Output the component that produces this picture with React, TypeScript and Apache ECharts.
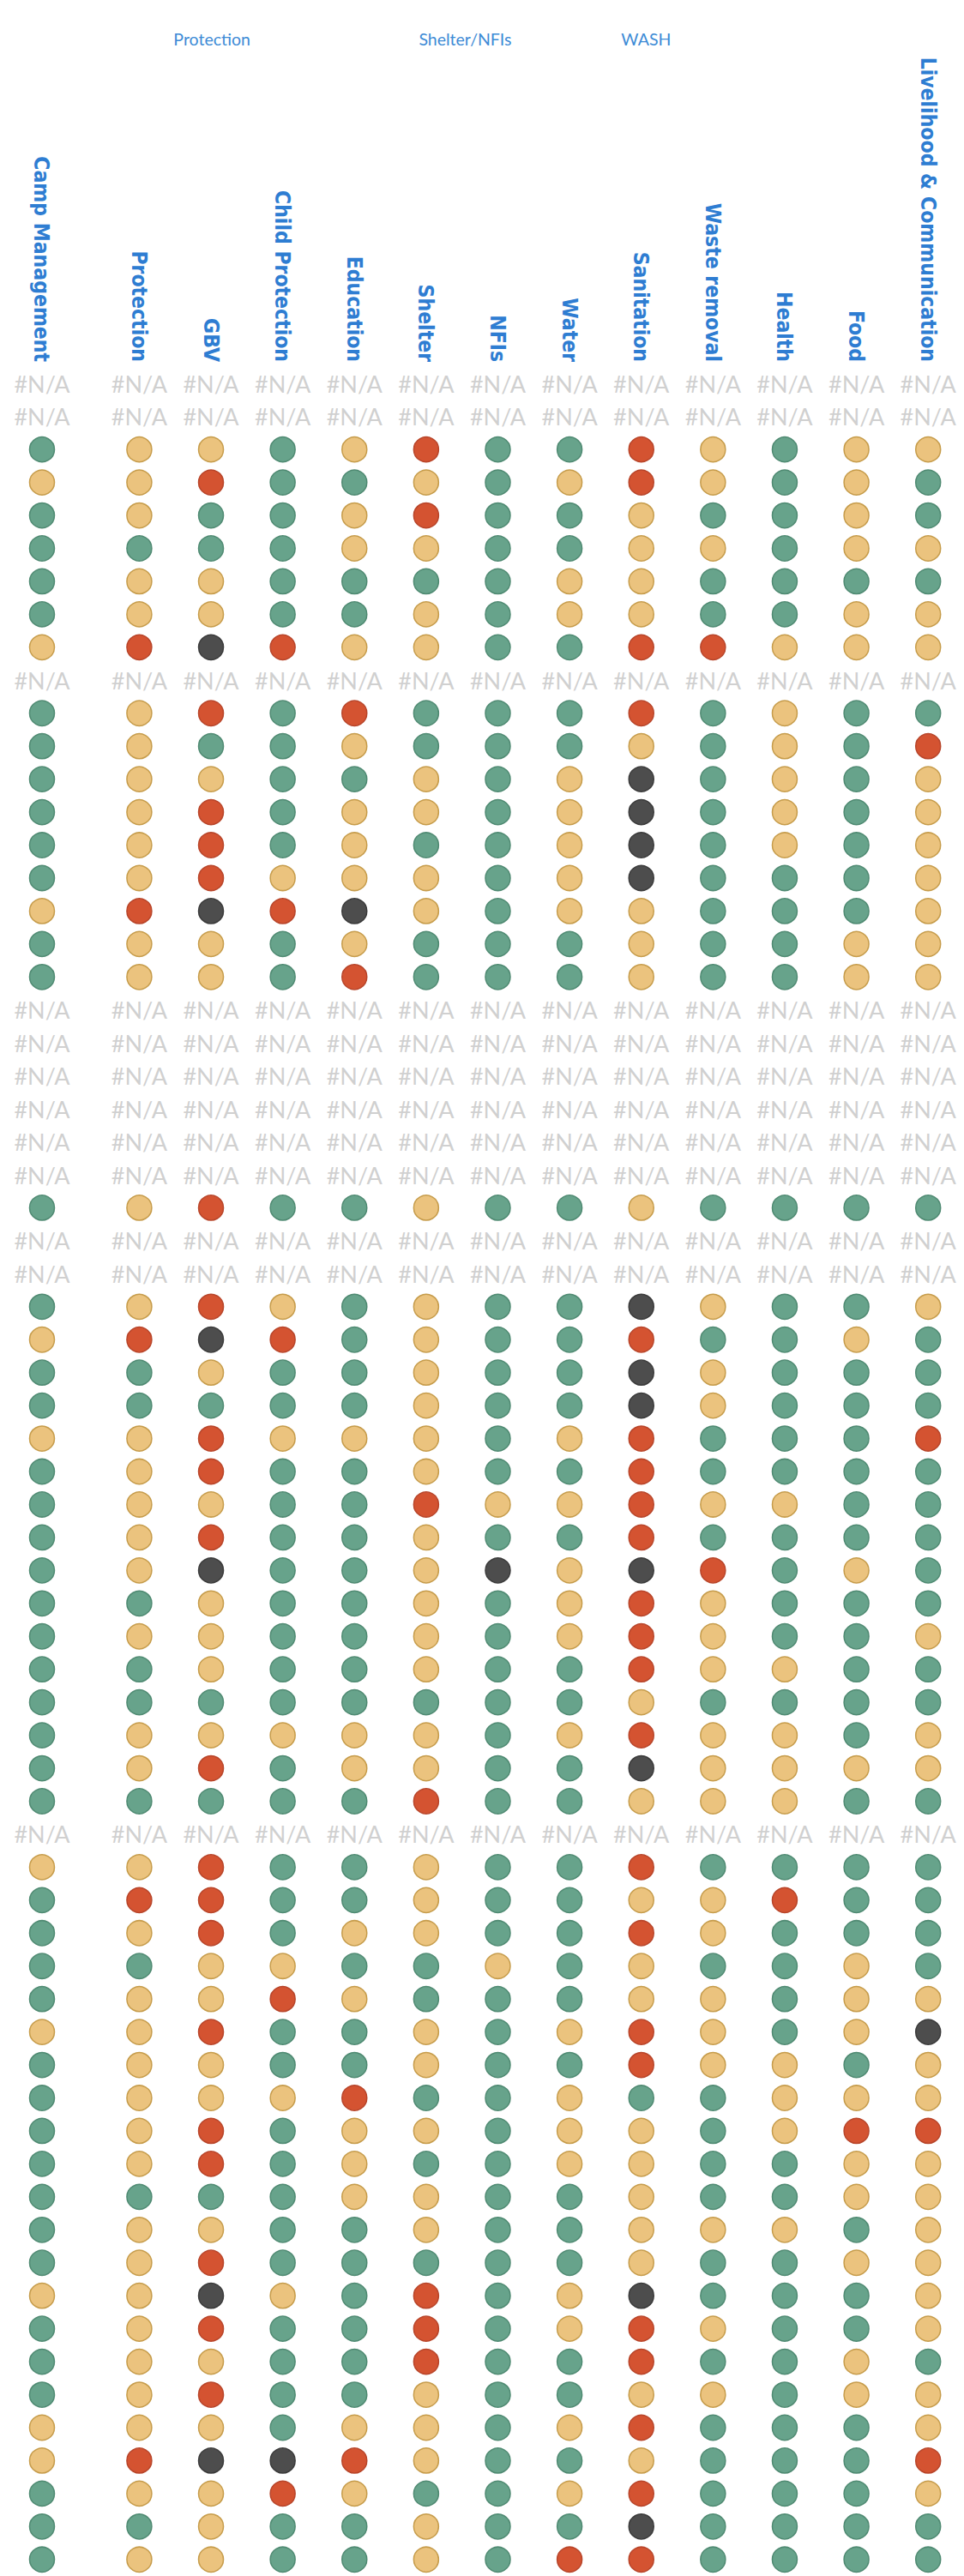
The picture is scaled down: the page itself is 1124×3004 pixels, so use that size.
import React, { useEffect, useRef } from "react";
import * as echarts from "echarts";

// Column headers (sectors)
const columns = [
  "Camp Management",
  "Protection",
  "GBV",
  "Child Protection",
  "Education",
  "Shelter",
  "NFIs",
  "Water",
  "Sanitation",
  "Waste removal",
  "Health",
  "Food",
  "Livelihood & Communication",
];

// Sector groups shown above the headers: label, first column, last column
const groupLabels = ["Protection", "Shelter/NFIs", "WASH"];
const groupFirstCol = [2, 5, 8];
const groupLastCol = [2, 6, 8];

// Status per row (one char per column): G=green, Y=yellow, R=red, D=dark, N=#N/A
const statusRows = [
  "NNNNNNNNNNNNN",
  "NNNNNNNNNNNNN",
  "GYYGYRGGRYGYY",
  "YYRGGYGYRYGYG",
  "GYGGYRGGYGGYG",
  "GGGGYYGGYYGYY",
  "GYYGGGGYYGGGG",
  "GYYGGYGYYGGYY",
  "YRDRYYGGRRYYY",
  "NNNNNNNNNNNNN",
  "GYRGRGGGRGYGG",
  "GYGGYGGGYGYGR",
  "GYYGGYGYDGYGY",
  "GYRGYYGYDGYGY",
  "GYRGYGGYDGYGY",
  "GYRYYYGYDGGGY",
  "YRDRDYGYYGGGY",
  "GYYGYGGGYGGYY",
  "GYYGRGGGYGGYY",
  "NNNNNNNNNNNNN",
  "NNNNNNNNNNNNN",
  "NNNNNNNNNNNNN",
  "NNNNNNNNNNNNN",
  "NNNNNNNNNNNNN",
  "NNNNNNNNNNNNN",
  "GYRGGYGGYGGGG",
  "NNNNNNNNNNNNN",
  "NNNNNNNNNNNNN",
  "GYRYGYGGDYGGY",
  "YRDRGYGGRGGYG",
  "GGYGGYGGDYGGG",
  "GGGGGYGGDYGGG",
  "YYRYYYGYRGGGR",
  "GYRGGYGGRGGGG",
  "GYYGGRYYRYYGG",
  "GYRGGYGGRGGGG",
  "GYDGGYDYDRGYG",
  "GGYGGYGYRYGGG",
  "GYYGGYGYRYGGY",
  "GGYGGYGGRYYGG",
  "GGGGGGGGYGGGG",
  "GYYYYYGYRYYGY",
  "GYRGYYGGDYYYY",
  "GGGGGRGGYYYGG",
  "NNNNNNNNNNNNN",
  "YYRGGYGGRGGGG",
  "GRRGGYGGYYRGG",
  "GYRGYYGGRYGGG",
  "GGYYGGYGYGGYG",
  "GYYRYGGGYYGYY",
  "YYRGGYGYRYGYD",
  "GYYGGYGGRYYGY",
  "GYYYRGGYGGYYY",
  "GYRGYYGYYGYRR",
  "GYRGYGGYYGGYY",
  "GGGGYYGGYGGYY",
  "GYYGGYGGYYYGY",
  "GYRGGGGGYGGYY",
  "YYDYGRGYDGGGY",
  "GYRGGRGYRYGGY",
  "GYYGGRGGRGGYG",
  "GYRGGYGGYYGYY",
  "YYYGYYGYRGGGY",
  "YRDDRYGGYGGGR",
  "GYYRYGGYRGGGY",
  "GGYGGYGGDGGGG",
  "GYYGGYGRRGGGG",
];

const rowIds = statusRows.map((_, i) => String(i + 1));

const statusCodes = ["G", "Y", "R", "D"];
const statusFill: Record<string, string> = {
  G: "#67A38B",
  Y: "#EBC37E",
  R: "#D45331",
  D: "#4D4D4D",
};
const statusBorder: Record<string, string> = {
  G: "#4F8A72",
  Y: "#C69C4B",
  R: "#B8452A",
  D: "#3B3B3B",
};

// layout
const ROW_H = 38.51;
const GRID_TOP = 428.05;
const BAND = 84.37;
const GRID0_LEFT = 6.8;
const GRID1_LEFT = 120.6;

function buildOption() {
  const gridOf = (c: number) => (c === 0 ? 0 : 1);
  const localIdx = (c: number) => (c === 0 ? 0 : c - 1);

  const series: any[] = [];
  for (let g = 0; g < 2; g++) {
    for (const code of statusCodes) {
      const data: number[][] = [];
      statusRows.forEach((row, r) => {
        for (let c = 0; c < columns.length; c++) {
          if (gridOf(c) === g && row[c] === code) data.push([localIdx(c), r]);
        }
      });
      series.push({
        type: "scatter",
        xAxisIndex: g,
        yAxisIndex: g,
        symbol: "circle",
        symbolSize: 29,
        silent: true,
        itemStyle: {
          color: statusFill[code],
          borderColor: statusBorder[code],
          borderWidth: 1.5,
          opacity: 1,
        },
        data,
      });
    }
    const naData: number[][] = [];
    statusRows.forEach((row, r) => {
      for (let c = 0; c < columns.length; c++) {
        if (gridOf(c) === g && row[c] === "N") naData.push([localIdx(c), r]);
      }
    });
    series.push({
      type: "scatter",
      xAxisIndex: g,
      yAxisIndex: g,
      symbol: "circle",
      symbolSize: 1,
      silent: true,
      itemStyle: { color: "rgba(0,0,0,0)" },
      label: {
        show: true,
        position: "inside",
        formatter: "#N/A",
        color: "#C4C4C4",
        fontFamily: "Lato",
        fontSize: 27,
      },
      data: naData,
    });
  }

  const xAxisBase = {
    type: "category",
    position: "top",
    boundaryGap: true,
    axisLine: { show: false },
    axisTick: { show: false },
    splitLine: { show: false },
    axisLabel: {
      interval: 0,
      rotate: 90,
      margin: 6,
      color: "#2E7DD2",
      fontFamily: "'DejaVu Sans Condensed', 'DejaVu Sans'",
      fontWeight: "bold",
      fontSize: 24.5,
    },
  };

  const colX = (c: number) =>
    c === 0 ? GRID0_LEFT + BAND / 2 : GRID1_LEFT + (c - 1 + 0.5) * BAND;

  const graphic = groupLabels.map((text, i) => ({
    type: "text",
    x: (colX(groupFirstCol[i]) + colX(groupLastCol[i])) / 2,
    y: 45,
    silent: true,
    style: {
      text,
      x: 0,
      y: 0,
      fill: "#3D8BD6",
      fontFamily: "Lato",
      fontSize: 19.5,
      align: "center",
      verticalAlign: "middle",
      textAlign: "center",
      textVerticalAlign: "middle",
    },
  }));

  return {
    animation: false,
    backgroundColor: "#FFFFFF",
    grid: [
      { left: GRID0_LEFT, top: GRID_TOP, width: BAND, height: ROW_H * statusRows.length },
      { left: GRID1_LEFT, top: GRID_TOP, width: BAND * (columns.length - 1), height: ROW_H * statusRows.length },
    ],
    xAxis: [
      { ...xAxisBase, gridIndex: 0, data: columns.slice(0, 1) },
      { ...xAxisBase, gridIndex: 1, data: columns.slice(1) },
    ],
    yAxis: [
      { type: "category", gridIndex: 0, data: rowIds, inverse: true, show: false },
      { type: "category", gridIndex: 1, data: rowIds, inverse: true, show: false },
    ],
    graphic,
    series,
  };
}

export default function App() {
  const ref = useRef<HTMLDivElement>(null);
  useEffect(() => {
    if (!ref.current) return;
    const chart = echarts.init(ref.current, undefined, { renderer: "svg" });
    chart.setOption(buildOption() as any);
    return () => chart.dispose();
  }, []);
  return (
    <div
      ref={ref}
      style={{ position: "absolute", left: 0, top: 0, width: 1124, height: 3004, background: "#fff" }}
    />
  );
}
